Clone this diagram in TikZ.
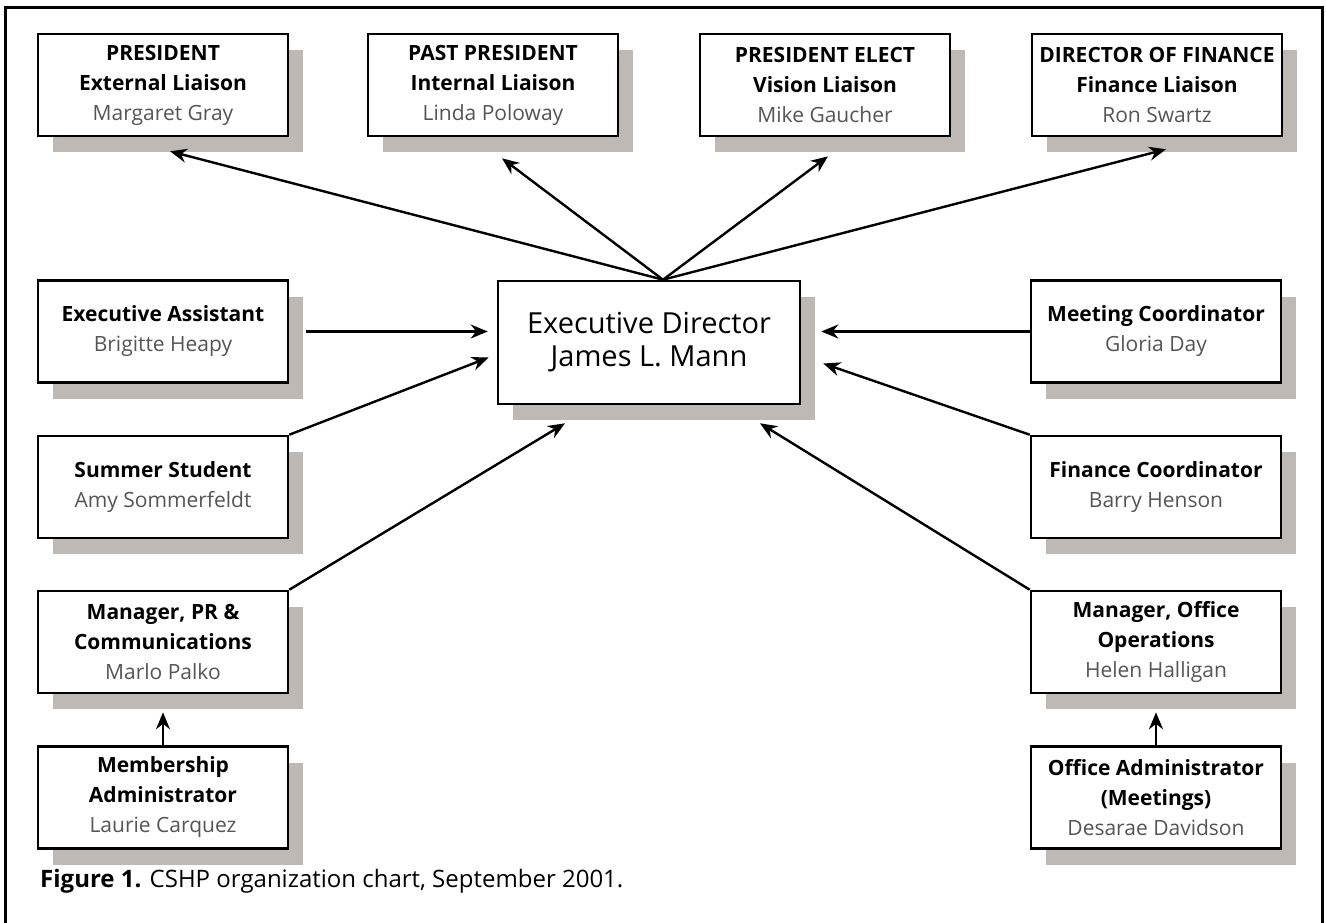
\documentclass[tikz,border=0pt]{standalone}
\usepackage{fontspec}
\setmainfont{Open Sans}
\usetikzlibrary{calc,positioning,shadows,arrows.meta}

\definecolor{shade}{RGB}{191,185,181}
\definecolor{namegray}{RGB}{85,85,85}
\newcommand{\who}[1]{{\mdseries\color{namegray}#1}}

\begin{document}
\begin{tikzpicture}[x=1pt,y=-1pt,inner sep=0pt,
  post/.style={draw=black,line width=2.6pt,fill=white,
    minimum width=250pt,minimum height=102pt,align=center,
    font=\fontsize{21}{30}\selectfont\bfseries,
    drop shadow={shadow xshift=15pt,shadow yshift=-16pt,fill=shade,opacity=1}},
  link/.style={->,>={Stealth[length=17pt,width=14pt]},line width=2.4pt}]

\useasboundingbox (0,0) rectangle (1326,923);

% frame, open at the bottom
\draw[line width=3pt] (5.5,923) -- (5.5,8) -- (1322.5,8) -- (1322.5,923);

% officers
\node[post] (pres) at (163,85) {PRESIDENT\\External Liaison\\\who{Margaret Gray}};
\node[post] (past) at (493,85) {PAST PRESIDENT\\Internal Liaison\\\who{Linda Poloway}};
\node[post] (elect) at (825,85) {PRESIDENT ELECT\\Vision Liaison\\\who{Mike Gaucher}};
\node[post] (dfin) at (1157,85) {DIRECTOR OF FINANCE\\Finance Liaison\\\who{Ron Swartz}};

% director
\node[post,minimum width=302pt,minimum height=123pt,
  font=\fontsize{29}{33}\selectfont] (ed) at (649,342.5)
  {Executive Director\\James L. Mann};

% staff, left
\node[post] (ea) at (163,331.5) {Executive Assistant\\\who{Brigitte Heapy}};
\node[post] (ss) at (163,487) {Summer Student\\\who{Amy Sommerfeldt}};
\node[post] (mpr) at (163,642) {Manager, PR \&\\Communications\\\who{Marlo Palko}};
\node[post] (mem) at (163,797.5) {Membership\\Administrator\\\who{Laurie Carquez}};

% staff, right
\node[post] (mc) at (1156,331.5) {Meeting Coordinator\\\who{Gloria Day}};
\node[post] (fc) at (1156,487) {Finance Coordinator\\\who{Barry Henson}};
\node[post] (moo) at (1156,642) {Manager, Office\\Operations\\\who{Helen Halligan}};
\node[post] (oa) at (1156,797.5) {Office Administrator\\(Meetings)\\\who{Desarae Davidson}};

\coordinate (hub) at ([xshift=14pt]ed.north);

\draw[link] (hub) -- ([shift={(7,14)}]pres.south);
\draw[link] (hub) -- ([shift={(9,21)}]past.south);
\draw[link] (hub) -- ([shift={(3,19)}]elect.south);
\draw[link] (hub) -- ([shift={(9,12)}]dfin.south);

\draw[link] ([xshift=17pt]ea.east) -- ([shift={(-9,-11)}]ed.west);
\draw[link] (ss.north east) -- ([shift={(-8,15)}]ed.west);
\draw[link] (mpr.north east) -- ([shift={(-84,18)}]ed.south);
\draw[link] (mc.west) -- ([shift={(20,-11)}]ed.east);
\draw[link] (fc.north west) -- ([shift={(22,21)}]ed.east);
\draw[link] (moo.north west) -- ([shift={(111,18)}]ed.south);
\draw[link] (mem.north) -- ([yshift=-18pt]mpr.south);
\draw[link] (oa.north) -- ([yshift=-18pt]moo.south);

\node[anchor=base west,font=\fontsize{24}{28}\selectfont] (cap) at (40,887)
  {\textbf{Figure 1.} CSHP organization chart, September 2001.};

\end{tikzpicture}
\end{document}
